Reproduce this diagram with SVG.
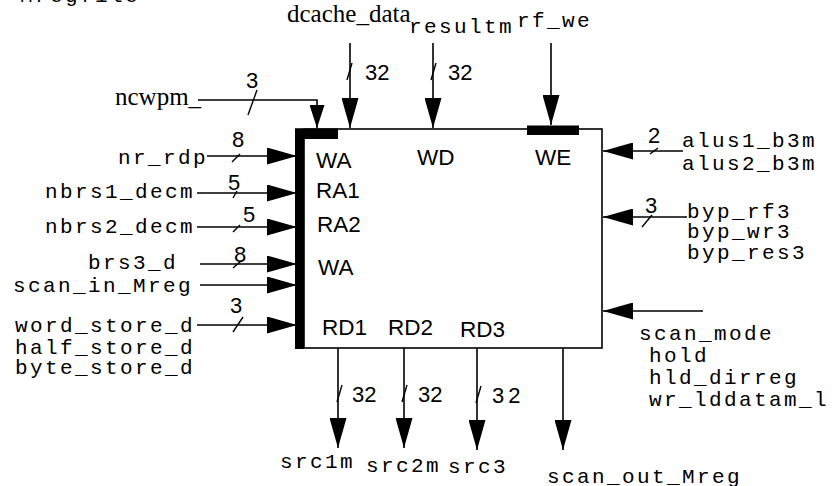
<svg xmlns="http://www.w3.org/2000/svg" width="834" height="486" viewBox="0 0 834 486">
<style>
.ln{stroke:#000;stroke-width:1.6;fill:none}
.tk{stroke:#000;stroke-width:1.4;fill:none}
.mono{font-family:"Liberation Mono","Courier New",monospace;font-size:21px;letter-spacing:2.4px;fill:#000}
.serif{font-family:"Liberation Serif","Times New Roman",serif;font-size:25px;fill:#000}
.sans{font-family:"Liberation Sans",Arial,sans-serif;font-size:22.5px;fill:#000}
.num{font-family:"Liberation Sans",Arial,sans-serif;font-size:22px;fill:#000}
.bus{font-family:"Liberation Sans",Arial,sans-serif;font-size:22px;fill:#000}
</style>
<defs>
<marker id="ah" markerUnits="userSpaceOnUse" markerWidth="30" markerHeight="17" refX="30" refY="8.5" orient="auto"><path d="M0,0 L30,8.5 L0,17 Z" fill="#000"/></marker>
<marker id="ahs" markerUnits="userSpaceOnUse" markerWidth="23" markerHeight="15" refX="23" refY="7.5" orient="auto"><path d="M0,0 L23,7.5 L0,15 Z" fill="#000"/></marker>
</defs>
<rect width="834" height="486" fill="#fff"/>
<text class="mono" x="20" y="2">Mregfile</text>

<g id="regfile">
<rect x="304" y="129" width="298" height="219" fill="#fff" stroke="#000" stroke-width="1.6"/>
<rect x="295" y="128.5" width="9" height="220.5" fill="#000"/>
<rect x="295" y="128.5" width="43" height="10.5" fill="#000"/>
<rect x="527" y="125.5" width="52" height="9.5" fill="#000"/>
<text class="sans" x="316" y="168">WA</text>
<text class="sans" x="316" y="198">RA1</text>
<text class="sans" x="317" y="232">RA2</text>
<text class="sans" x="318" y="275">WA</text>
<text class="sans" x="322" y="335">RD1</text>
<text class="sans" x="388" y="335">RD2</text>
<text class="sans" x="460" y="337">RD3</text>
<text class="sans" x="417" y="165">WD</text>
<text class="sans" x="535" y="165">WE</text>
</g>

<g id="connectors">
<path class="ln" d="M198,100 H317 V128" marker-end="url(#ahs)"/>
<path class="ln" d="M350,43 V128" marker-end="url(#ah)"/>
<path class="ln" d="M433,43 V128" marker-end="url(#ah)"/>
<path class="ln" d="M551,43 V125" marker-end="url(#ah)"/>
<path class="ln" d="M207,156 H297" marker-end="url(#ah)"/>
<path class="ln" d="M197,193 H297" marker-end="url(#ah)"/>
<path class="ln" d="M197,227 H297" marker-end="url(#ah)"/>
<path class="ln" d="M200,264 H297" marker-end="url(#ah)"/>
<path class="ln" d="M200,285 H297" marker-end="url(#ah)"/>
<path class="ln" d="M197,325 H297" marker-end="url(#ah)"/>
<path class="ln" d="M683,151 H603" marker-end="url(#ah)"/>
<path class="ln" d="M687,217 H603" marker-end="url(#ah)"/>
<path class="ln" d="M703,311 H603" marker-end="url(#ah)"/>
<path class="ln" d="M338,348 V448" marker-end="url(#ah)"/>
<path class="ln" d="M404,348 V448" marker-end="url(#ah)"/>
<path class="ln" d="M477,348 V450" marker-end="url(#ah)"/>
<path class="ln" d="M563,348 V450" marker-end="url(#ah)"/>
<g class="tk">
<path d="M248,115 L257,90"/>
<path d="M347,80 L352,63"/>
<path d="M431,80 L436,63"/>
<path d="M232,162 L240,154"/>
<path d="M233,198 L237,191"/>
<path d="M233,232 L240,225"/>
<path d="M233,268 L241,261"/>
<path d="M233,332 L243,317"/>
<path d="M650,154 L658,148"/>
<path d="M642,227 L652,215"/>
<path d="M337,402 L342,385"/>
<path d="M402,402 L407,385"/>
<path d="M476,403 L481,386"/>
</g>
<text class="num" x="246" y="88">3</text>
<text class="num" x="232" y="147">8</text>
<text class="num" x="228" y="190">5</text>
<text class="num" x="243" y="222">5</text>
<text class="num" x="234" y="262">8</text>
<text class="num" x="230" y="313">3</text>
<text class="num" x="648" y="143">2</text>
<text class="num" x="645" y="213">3</text>
<text class="bus" x="365" y="80">32</text>
<text class="bus" x="448" y="80">32</text>
<text class="bus" x="352" y="402">32</text>
<text class="bus" x="418" y="402">32</text>
<text class="bus" x="492" y="403" letter-spacing="4">32</text>
</g>

<g id="sig-ncwpm"><text class="serif" x="115" y="105">ncwpm_</text></g>
<g id="sig-dcache"><text class="serif" x="287" y="22">dcache_data</text></g>
<g id="sig-resultm"><text class="mono" x="409" y="33">resultm</text></g>
<g id="sig-rfwe"><text class="mono" x="517" y="27">rf_we</text></g>
<g id="sig-nrrdp"><text class="mono" x="118" y="164">nr_rdp</text></g>
<g id="sig-nbrs1"><text class="mono" x="45" y="198">nbrs1_decm</text></g>
<g id="sig-nbrs2"><text class="mono" x="45" y="233">nbrs2_decm</text></g>
<g id="sig-brs3"><text class="mono" x="88" y="269">brs3_d</text></g>
<g id="sig-scanin"><text class="mono" x="13" y="292">scan_in_Mreg</text></g>
<g id="sig-store">
<text class="mono" x="15" y="332">word_store_d</text>
<text class="mono" x="15" y="354">half_store_d</text>
<text class="mono" x="15" y="374">byte_store_d</text>
</g>
<g id="sig-alus">
<text class="mono" x="682" y="147">alus1_b3m</text>
<text class="mono" x="682" y="170">alus2_b3m</text>
</g>
<g id="sig-byp">
<text class="mono" x="687" y="218">byp_rf3</text>
<text class="mono" x="687" y="238">byp_wr3</text>
<text class="mono" x="687" y="259">byp_res3</text>
</g>
<g id="sig-scanmode">
<text class="mono" x="639" y="340">scan_mode</text>
<text class="mono" x="649" y="362">hold</text>
<text class="mono" x="649" y="384">hld_dirreg</text>
<text class="mono" x="649" y="406">wr_lddatam_l</text>
</g>
<g id="sig-src1m"><text class="mono" x="280" y="468">src1m</text></g>
<g id="sig-src2m"><text class="mono" x="366" y="472">src2m</text></g>
<g id="sig-src3"><text class="mono" x="448" y="473">src3</text></g>
<g id="sig-scanout"><text class="mono" x="547" y="483">scan_out_Mreg</text></g>
</svg>
